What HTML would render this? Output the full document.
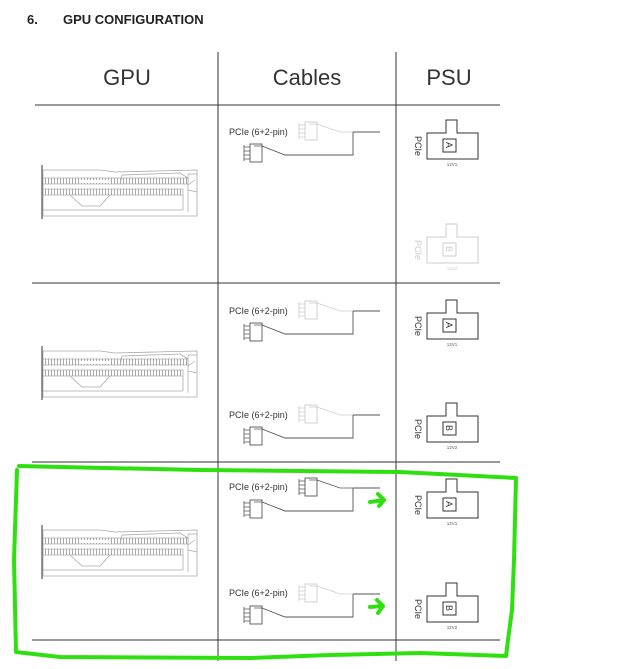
<!DOCTYPE html>
<html><head><meta charset="utf-8"><style>
html,body{margin:0;padding:0;background:#fff;}
svg{display:block;font-family:"Liberation Sans",Arial,sans-serif;}
</style></head><body>
<svg width="618" height="669" viewBox="0 0 618 669" xmlns="http://www.w3.org/2000/svg">
<defs>
<pattern id="hatch" width="3" height="6" patternUnits="userSpaceOnUse"><rect width="3" height="6" fill="#fff"/><rect x="0" width="1" height="6" fill="#aaa"/></pattern>
<g id="gpu">
  <line x1="42" y1="165" x2="42" y2="219" stroke="#555" stroke-width="1.2"/>
  <path d="M43 170 L100 170 L115 172 L197 170 L197 216 L43 216 Z" fill="none" stroke="#aaa" stroke-width="0.8"/>
  <rect x="43" y="178" width="145" height="6" fill="url(#hatch)" stroke="#999" stroke-width="0.6"/>
  <rect x="43" y="189" width="140" height="6" fill="url(#hatch)" stroke="#999" stroke-width="0.6"/>
  <rect x="80" y="180" width="30" height="3" fill="#fff"/>
  <path d="M70 195 L82 206 L100 206 L110 195" fill="none" stroke="#aaa" stroke-width="0.8"/>
  <path d="M120 184 L122 175 L180 173 L188 178" fill="none" stroke="#aaa" stroke-width="0.8"/>
  <line x1="43" y1="210" x2="183" y2="210" stroke="#aaa" stroke-width="0.8"/>
  <line x1="183" y1="195" x2="183" y2="210" stroke="#aaa" stroke-width="0.8"/>
  <path d="M188 174 L197 174 M188 174 L188 212 M188 185 L195 180 M188 190 L197 192" fill="none" stroke="#aaa" stroke-width="0.7"/>
</g>
<g id="connT">
  <rect x="305" y="-9" width="12" height="18" fill="#fff" stroke="currentColor" stroke-width="0.9"/>
  <path d="M299 -6 H305 M299 -2 H305 M299 2 H305 M299 6 H305 M299 -8 V8 M309 -7 H317" stroke="currentColor" stroke-width="0.8" fill="none"/>
  <path d="M317 -7 L340 1 L353 1" stroke="currentColor" stroke-width="0.8" fill="none"/>
</g>
<g id="cable">
  <path d="M353 1 H380 M353 1 V24 H285 L262 15" stroke="#555" stroke-width="0.9" fill="none"/>
  <rect x="250" y="13" width="12" height="18" fill="#fff" stroke="#555" stroke-width="0.9"/>
  <path d="M244 16 H250 M244 20 H250 M244 24 H250 M244 28 H250 M244 14 V30 M254 15 H262" stroke="#555" stroke-width="0.8" fill="none"/>
</g>
<g id="psu">
  <path d="M19 0 V-13 H30 V0 H51 V26 H0 V0 Z" fill="#fff" stroke="currentColor" stroke-width="1"/>
  <rect x="16" y="6" width="13" height="13" fill="none" stroke="currentColor" stroke-width="1"/>
</g>
</defs>

<text x="27" y="24" font-size="13" font-weight="bold" fill="#222">6.</text>
<text x="63" y="24" font-size="13" font-weight="bold" fill="#222">GPU CONFIGURATION</text>

<text x="127" y="85" font-size="22" text-anchor="middle" fill="#333">GPU</text>
<text x="307" y="85" font-size="22" text-anchor="middle" fill="#333">Cables</text>
<text x="449" y="85" font-size="22" text-anchor="middle" fill="#333">PSU</text>

<g stroke="#333" stroke-width="1">
<line x1="35" y1="105" x2="500" y2="105"/>
<line x1="32" y1="283" x2="500" y2="283"/>
<line x1="32" y1="462" x2="500" y2="462"/>
<line x1="32" y1="640" x2="500" y2="640"/>
<line x1="218" y1="52" x2="218" y2="661"/>
<line x1="396" y1="52" x2="396" y2="661"/>
</g>

<use href="#gpu"/>
<use href="#gpu" transform="translate(0,181)"/>
<use href="#gpu" transform="translate(0,360)"/>

<g font-size="9" fill="#333">
<text x="229" y="135">PCIe (6+2-pin)</text>
<text x="229" y="314">PCIe (6+2-pin)</text>
<text x="229" y="418">PCIe (6+2-pin)</text>
<text x="229" y="490">PCIe (6+2-pin)</text>
<text x="229" y="596">PCIe (6+2-pin)</text>
</g>
<use href="#connT" transform="translate(0,131)" style="color:#ccc"/>
<use href="#cable" transform="translate(0,131)"/>
<use href="#connT" transform="translate(0,310)" style="color:#ccc"/>
<use href="#cable" transform="translate(0,310)"/>
<use href="#connT" transform="translate(0,414)" style="color:#ccc"/>
<use href="#cable" transform="translate(0,414)"/>
<use href="#connT" transform="translate(0,487)" style="color:#555"/>
<use href="#cable" transform="translate(0,487)"/>
<use href="#connT" transform="translate(0,593)" style="color:#ccc"/>
<use href="#cable" transform="translate(0,593)"/>

<use href="#psu" transform="translate(427,133)" style="color:#333"/>
<use href="#psu" transform="translate(427,237)" style="color:#ccc"/>
<use href="#psu" transform="translate(427,313)" style="color:#333"/>
<use href="#psu" transform="translate(427,416)" style="color:#333"/>
<use href="#psu" transform="translate(427,492)" style="color:#333"/>
<use href="#psu" transform="translate(427,596)" style="color:#333"/>

<g font-size="9">
<text transform="translate(415,136) rotate(90)" fill="#333">PCIe</text>
<text transform="translate(415,240) rotate(90)" fill="#ccc">PCIe</text>
<text transform="translate(415,316) rotate(90)" fill="#333">PCIe</text>
<text transform="translate(415,419) rotate(90)" fill="#333">PCIe</text>
<text transform="translate(415,495) rotate(90)" fill="#333">PCIe</text>
<text transform="translate(415,599) rotate(90)" fill="#333">PCIe</text>
<text transform="translate(446,142) rotate(90)" fill="#333">A</text>
<text transform="translate(446,246) rotate(90)" fill="#ccc">B</text>
<text transform="translate(446,322) rotate(90)" fill="#333">A</text>
<text transform="translate(446,425) rotate(90)" fill="#333">B</text>
<text transform="translate(446,501) rotate(90)" fill="#333">A</text>
<text transform="translate(446,605) rotate(90)" fill="#333">B</text>
</g>
<g font-size="4.5" text-anchor="middle">
<text x="452" y="166" fill="#555">12V1</text>
<text x="452" y="270" fill="#ccc">12V2</text>
<text x="452" y="346" fill="#555">12V1</text>
<text x="452" y="449" fill="#555">12V2</text>
<text x="452" y="525" fill="#555">12V1</text>
<text x="452" y="629" fill="#555">12V2</text>
</g>

<g fill="none" stroke="#2ee00f" stroke-width="4" stroke-linecap="round" stroke-linejoin="round">
<path d="M19 466 L60 467 L200 470 L400 472 L516 478 L514 560 L512 610 L508 640 L506 656 L420 653 L330 655 L250 658 L60 657 L16 652 L14 560 L17 470"/>
<path d="M370 502 L384 500 M378 494 L384 500 L379 506"/>
<path d="M370 607 L383 606 M377 600 L383 606 L378 613"/>
</g>
</svg>
</body></html>
